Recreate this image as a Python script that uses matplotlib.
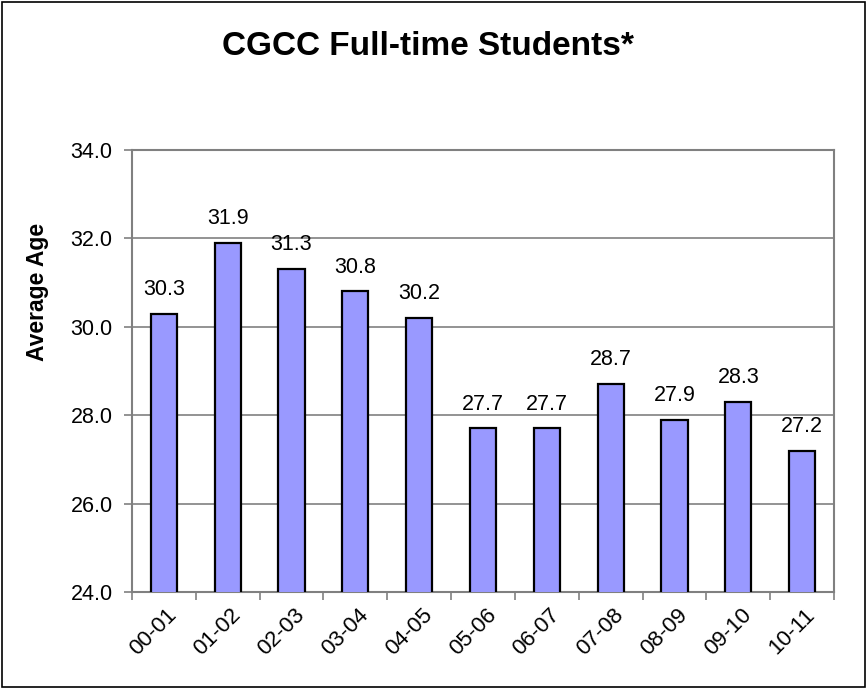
import matplotlib
matplotlib.use("Agg")
import matplotlib.pyplot as plt
from matplotlib.patches import Rectangle
import numpy as np

categories = ["00-01", "01-02", "02-03", "03-04", "04-05", "05-06", "06-07", "07-08", "08-09", "09-10", "10-11"]
values = [30.3, 31.9, 31.3, 30.8, 30.2, 27.7, 27.7, 28.7, 27.9, 28.3, 27.2]
yticks = [24.0, 26.0, 28.0, 30.0, 32.0, 34.0]

plt.rcParams['font.family'] = ['Liberation Sans', 'DejaVu Sans']

fig = plt.figure(figsize=(8.67, 6.88), dpi=100)
ax = fig.add_axes([0.1522, 0.1395, 0.962 - 0.1522, 0.782 - 0.1395])

x = np.arange(len(categories))
ax.bar(x, values, width=0.41, bottom=0, color='#9999FF', edgecolor='black', linewidth=1.6, zorder=3)

ax.set_ylim(24, 34)
ax.set_xlim(-0.5, len(categories) - 0.5)
ax.set_yticks(yticks)
ax.set_yticklabels([f"{v:.1f}" for v in yticks], fontsize=15.5)
ax.yaxis.grid(True, color='#808080', linewidth=1.2, zorder=0)
ax.tick_params(axis='y', length=6, width=1.2, color='#808080', pad=8)

# major ticks at boundaries, labels at centers
ax.set_xticks(np.arange(len(categories) + 1) - 0.5)
ax.set_xticklabels([])
ax.tick_params(axis='x', which='major', length=6, width=1.2, color='#808080')
ax.set_xticks(x + 0.04, minor=True)
ax.set_xticklabels(categories, minor=True, rotation=45, ha='right', rotation_mode='anchor', fontsize=16)
ax.tick_params(axis='x', which='minor', length=0, pad=9)

for s in ['top', 'right', 'left', 'bottom']:
    ax.spines[s].set_color('#808080')
    ax.spines[s].set_linewidth(1.5)

for xi, v in zip(x, values):
    ax.annotate(f"{v:.1f}", (xi, v), xytext=(0, 10), textcoords='offset points',
                ha='center', va='bottom', fontsize=15.5)

fig.text(0.494, 0.932, "CGCC Full-time Students*", ha='center', va='center',
         fontsize=24, fontweight='bold')
fig.text(0.043, 0.575, "Average Age", ha='center', va='center', rotation=90,
         fontsize=16.5, fontweight='bold')

fig.patches.append(Rectangle((0.002, 0.002), 0.996, 0.995, transform=fig.transFigure,
                             fill=False, edgecolor='black', linewidth=1.2))

fig.savefig("out.png", dpi=100)
